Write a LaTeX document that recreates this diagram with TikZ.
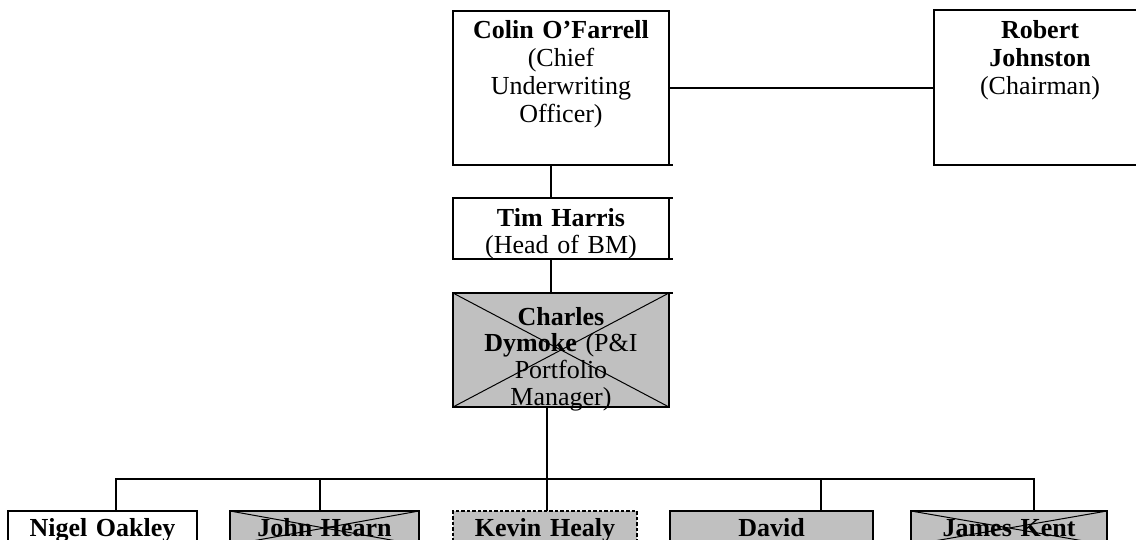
\documentclass[tikz,border=0pt]{standalone}
\usepackage{fontspec}
\setmainfont{Liberation Serif}
\definecolor{boxgray}{HTML}{C0C0C0}
\tikzset{
  box/.style={draw, line width=2pt, rectangle, inner sep=0pt, outer sep=0pt, anchor=north west},
  shaded/.style={box, fill=boxgray},
  crossed/.style={shaded, path picture={\draw[line width=1pt]
      (path picture bounding box.north west) -- (path picture bounding box.south east)
      (path picture bounding box.south west) -- (path picture bounding box.north east);}},
  dashedbox/.style={shaded, dash pattern=on 3.5pt off 2pt},
  txt/.style={anchor=base, inner sep=0pt, align=center, text width=210pt,
    font=\fontsize{26}{#1}\selectfont},
  txt/.default=28pt,
  link/.style={line width=2pt},
}
\begin{document}
\begin{tikzpicture}[x=1pt, y=-1pt]
\useasboundingbox (0,0) rectangle (1136,539);
\clip (0,0) rectangle (1136,539);

% upper chain
\node[box, minimum width=216pt, minimum height=154pt] (colin) at (453,11) {};
\node[box, minimum width=212pt, minimum height=155pt] (robert) at (934,10) {};
\node[box, minimum width=216pt, minimum height=61pt] (tim) at (453,198) {};
\node[crossed, minimum width=216pt, minimum height=114pt] (charles) at (453,293) {};

% team row
\node[box, minimum width=189pt, minimum height=34pt] (nigel) at (8,511) {};
\node[crossed, minimum width=189pt, minimum height=34pt] (john) at (230,511) {};
\node[dashedbox, minimum width=184pt, minimum height=34pt] (kevin) at (453,511) {};
\node[shaded, minimum width=203pt, minimum height=34pt] (david) at (670,511) {};
\node[crossed, minimum width=196pt, minimum height=34pt] (james) at (911,511) {};

% labels
\node[txt] (colin-t) at (561,38) {\textbf{Colin O’Farrell}\\(Chief\\Underwriting\\Officer)};
\node[txt] (robert-t) at (1040,38) {\textbf{Robert}\\\textbf{Johnston}\\(Chairman)};
\node[txt=26.5pt] (tim-t) at (561,226.5) {\textbf{Tim Harris}\\(Head of BM)};
\node[txt=26.7pt] (charles-t) at (561,325) {\textbf{Charles}\\\textbf{Dymoke} (P\&I\\Portfolio\\Manager)};
\node[txt] (nigel-t) at (102.5,536) {\textbf{Nigel Oakley}};
\node[txt] (john-t) at (324.5,536) {\textbf{John Hearn}};
\node[txt] (kevin-t) at (545,536) {\textbf{Kevin Healy}};
\node[txt] (david-t) at (771.5,536) {\textbf{David}};
\node[txt] (james-t) at (1009,536) {\textbf{James Kent}};

% reporting lines
\draw[link] (colin.east) -- (colin.east -| robert.west);
\draw[link] ([xshift=98pt]colin.south west) -- ([xshift=98pt]tim.north west);
\draw[link] ([xshift=98pt]tim.south west) -- ([xshift=98pt]charles.north west);

\coordinate (nigeltop) at ([xshift=108pt]nigel.north west);
\coordinate (johntop) at ([xshift=90pt]john.north west);
\coordinate (kevintop) at ([xshift=94pt]kevin.north west);
\coordinate (davidtop) at ([xshift=151pt]david.north west);
\coordinate (jamestop) at ([xshift=123pt]james.north west);
\coordinate (bus) at (547,479);

\draw[link] ([xshift=94pt]charles.south west) -- (kevintop);
\draw[link] (nigeltop) |- (bus) -| (jamestop);
\draw[link] (johntop) -- (johntop |- bus);
\draw[link] (davidtop) -- (davidtop |- bus);

% small border stubs on the right of the upper boxes
\draw[link] (colin.south east) -- ++(4,0);
\draw[link] (tim.north east) -- ++(4,0);
\draw[link] (tim.south east) -- ++(4,0);
\draw[link] (charles.north east) -- ++(4,0);
\end{tikzpicture}
\end{document}
